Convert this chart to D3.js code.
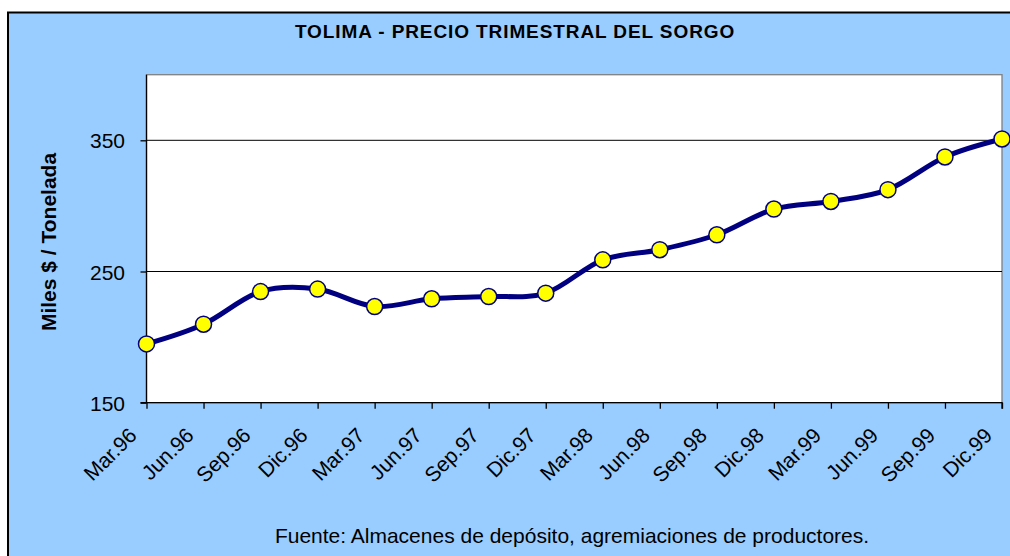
<!DOCTYPE html>
<html>
<head>
<meta charset="utf-8">
<script src="https://cdn.jsdelivr.net/npm/d3@7"></script>
<style>
    body { margin: 0; background: #fff; }
    svg { display: block; font-family: "Liberation Sans", Arial, sans-serif; }
</style>
</head>
<body>
<svg width="1010" height="556"></svg>
<script>
// trimestres (eje OX)
const quarters = ["Mar.96", "Jun.96", "Sep.96", "Dic.96", "Mar.97", "Jun.97", "Sep.97", "Dic.97",
                  "Mar.98", "Jun.98", "Sep.98", "Dic.98", "Mar.99", "Jun.99", "Sep.99", "Dic.99"]
// precio, miles $ / tonelada
const prices = [194.8, 209.8, 234.7, 236.6, 223.3, 229.2, 230.9, 233.5,
                258.9, 266.6, 278, 297.6, 303.4, 312.4, 337.3, 351]
const yTicks = [150, 250, 350]
const gridTicks = [250, 350]

const titleText = "TOLIMA - PRECIO TRIMESTRAL DEL SORGO"
const yLabel = "Miles $ / Tonelada"
const sourceText = "Fuente: Almacenes de depósito, agremiaciones de productores."

let svg = d3.select("svg")

// área del gráfico
const attr_area = {
    left: 146.5,
    right: 1002,
    top: 74.7,
    bottom: 402.7
}

// fondo azul con borde
svg.append("rect")
    .attr("x", 8)
    .attr("y", 12.5)
    .attr("width", 1020)
    .attr("height", 560)
    .style("fill", "#99ccff")
    .style("stroke", "#000")
    .style("stroke-width", 2)

svg.append("rect")
    .attr("x", attr_area.left)
    .attr("y", attr_area.top)
    .attr("width", attr_area.right - attr_area.left)
    .attr("height", attr_area.bottom - attr_area.top)
    .style("fill", "#fff")
    .style("stroke", "#808080")
    .style("stroke-width", 1.3)

let scaleX = d3.scalePoint()
    .domain(quarters)
    .range([attr_area.left, attr_area.right])

let scaleY = d3.scaleLinear()
    .domain([150, 400])
    .range([attr_area.bottom, attr_area.top])

// líneas de cuadrícula
svg.append("g")
    .selectAll("line")
    .data(gridTicks)
    .enter()
    .append("line")
    .attr("x1", attr_area.left)
    .attr("x2", attr_area.right)
    .attr("y1", d => scaleY(d))
    .attr("y2", d => scaleY(d))
    .style("stroke", "#000")
    .style("stroke-width", 1)

// ejes
let axisY = d3.axisLeft(scaleY).tickValues(yTicks).tickSize(6).tickPadding(15.5)
let axisX = d3.axisBottom(scaleX).tickSize(6)

let gY = svg.append("g")
    .attr("transform", `translate(${attr_area.left}, 0)`)
    .call(axisY)
gY.select(".domain").attr("d", `M-6,${attr_area.bottom}H0V${attr_area.top}`)

let gX = svg.append("g")
    .attr("transform", `translate(0, ${attr_area.bottom})`)
    .call(axisX)
gX.select(".domain").attr("d", `M${attr_area.left},0H${attr_area.right}V6`)

svg.selectAll(".tick text")
    .style("font-size", "21px")
    .style("fill", "#000")
svg.selectAll(".domain, .tick line")
    .style("stroke", "#000")
    .style("stroke-width", 1.3)

gY.selectAll(".tick text").attr("dy", "0.36em")

// etiquetas inclinadas, el final queda debajo y a la izquierda de la marca
gX.selectAll("text")
    .style("text-anchor", "end")
    .attr("y", 0)
    .attr("dy", 0)
    .attr("transform", "translate(-9, 34) rotate(-45)")

// línea suavizada
const lineGen = d3.line()
    .x((d, i) => scaleX(quarters[i]))
    .y(d => scaleY(d))
    .curve(d3.curveCatmullRom.alpha(0))

svg.append("path")
    .datum(prices)
    .attr("d", lineGen)
    .style("fill", "none")
    .style("stroke", "#000080")
    .style("stroke-width", 5)
    .style("stroke-linejoin", "round")

svg.selectAll(".dot")
    .data(prices)
    .enter()
    .append("circle")
    .attr("class", "dot")
    .attr("r", 8)
    .attr("cx", (d, i) => scaleX(quarters[i]))
    .attr("cy", d => scaleY(d))
    .style("fill", "#ffff00")
    .style("stroke", "#000080")
    .style("stroke-width", 1.5)

// textos
svg.append("text")
    .attr("x", 515)
    .attr("y", 38)
    .attr("text-anchor", "middle")
    .style("font-size", "19px")
    .style("letter-spacing", "0.9px")
    .style("font-weight", "bold")
    .text(titleText)

svg.append("text")
    .attr("transform", "translate(56, 242) rotate(-90)")
    .attr("text-anchor", "middle")
    .style("font-size", "21px")
    .style("font-weight", "bold")
    .text(yLabel)

svg.append("text")
    .attr("x", 572)
    .attr("y", 543)
    .attr("text-anchor", "middle")
    .style("font-size", "21px")
    .text(sourceText)
</script>
</body>
</html>
